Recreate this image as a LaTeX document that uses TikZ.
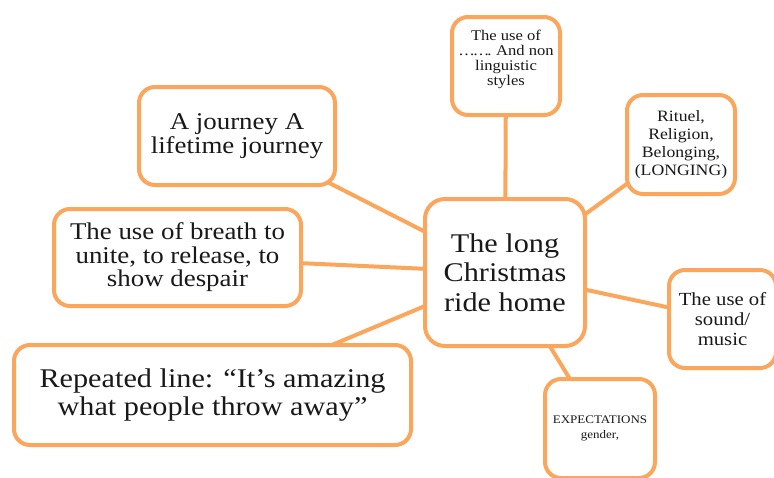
\documentclass[tikz,border=0pt]{standalone}
\usepackage{fontspec}
\setmainfont{Liberation Serif}[FakeStretch=1.12]
\usetikzlibrary{backgrounds}
\definecolor{boxorange}{RGB}{250,166,92}
\definecolor{ink}{RGB}{25,25,25}
\tikzset{
  mbox/.style={draw=boxorange, line width=4pt, rounded corners=16pt, fill=white,
    align=center, text=ink, inner sep=0pt},
  link/.style={draw=boxorange, line width=4pt},
}
\begin{document}
\begin{tikzpicture}[x=1pt,y=-1pt]
\useasboundingbox (0,0) rectangle (774,477);
\clip (0,0) rectangle (774,477);
\node[mbox, minimum width=160pt, minimum height=147pt, rounded corners=20pt,
  font=\fontsize{27}{29.5}\selectfont] (center) at (505,272.5) {The long\\Christmas\\ride home};
\node[mbox, minimum width=108pt, minimum height=98pt,
  font=\fontsize{14.8}{15}\selectfont] (top) at (506,66) {The use of\\…\kern-2pt…\kern-2pt.\kern-1pt{} And non\\linguistic\\styles\\[2pt]};
\node[mbox, minimum width=108pt, minimum height=99pt,
  font=\fontsize{15.8}{17.8}\selectfont] (ritual) at (681,144.5) {Rituel,\\Religion,\\Belonging,\\(LONGING)};
\node[mbox, minimum width=107pt, minimum height=98pt,
  font=\fontsize{18.5}{20}\selectfont] (sound) at (722.5,319) {The use of\\sound/\\music};
\node[mbox, minimum width=110pt, minimum height=99pt,
  font=\fontsize{11.6}{15}\selectfont] (expect) at (600,428.5) {EXPECTATIONS\\gender,};
\node[mbox, minimum width=196pt, minimum height=98pt,
  font=\fontsize{24}{24.5}\selectfont] (journey) at (237,136) {A journey A\\lifetime journey};
\node[mbox, minimum width=247pt, minimum height=97pt,
  font=\fontsize{24}{23.5}\selectfont] (breath) at (177.5,257.5) {The use of breath to\\unite, to release, to\\show despair};
\node[mbox, minimum width=397pt, minimum height=100pt,
  font=\fontsize{27}{28.5}\selectfont] (repeated) at (212.5,395) {Repeated line: “It’s amazing\\what people throw away”};
\begin{scope}[on background layer]
  \draw[link] (top.center) -- (center.center);
  \draw[link] (ritual.center) -- (center.center);
  \draw[link] (sound.center) -- (center.center);
  \draw[link] (expect.center) -- (center.center);
  \draw[link] (journey.center) -- (center.center);
  \draw[link] (breath.center) -- (center.center);
  \draw[link] (repeated.center) -- (center.center);
\end{scope}
\end{tikzpicture}
\end{document}
